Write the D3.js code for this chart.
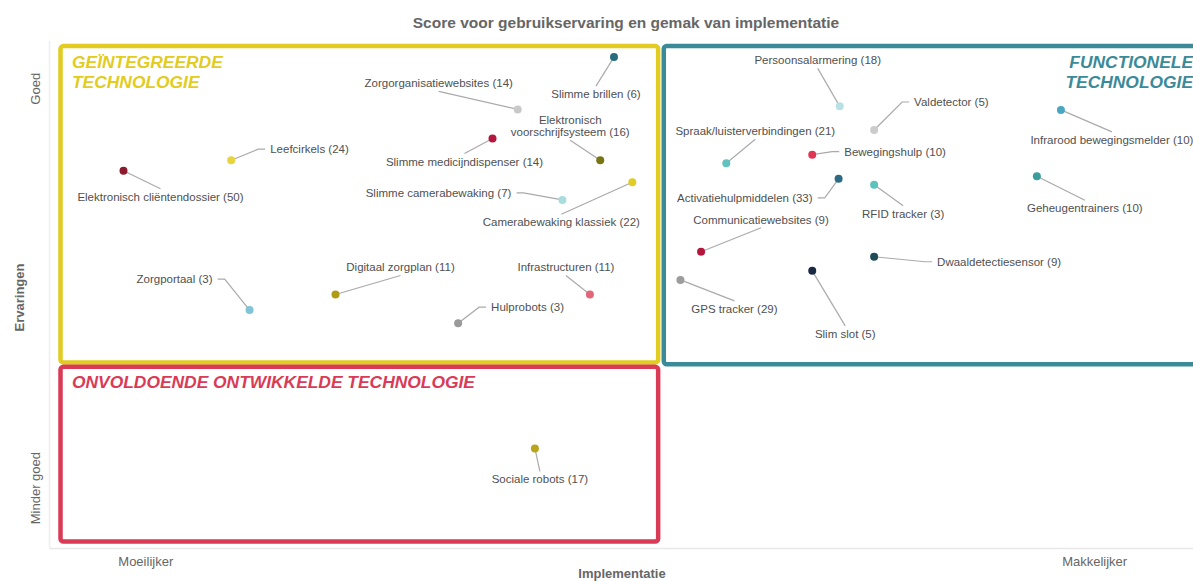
<!DOCTYPE html>
<html>
<head>
<meta charset="utf-8">
<script src="https://cdn.jsdelivr.net/npm/d3@7"></script>
<style>
  body { margin: 0; background: #fff; }
  svg { font-family: "Liberation Sans", Arial, sans-serif; }
</style>
</head>
<body>
<div id="chart"></div>
<script>
var width = 1193,
    height = 581;

// data
var names = ["Slimme brillen", "Zorgorganisatiewebsites", "Elektronisch voorschrijfsysteem",
  "Slimme medicijndispenser", "Leefcirkels", "Elektronisch cliëntendossier",
  "Slimme camerabewaking", "Camerabewaking klassiek", "Digitaal zorgplan",
  "Infrastructuren", "Hulprobots", "Zorgportaal", "Sociale robots",
  "Persoonsalarmering", "Valdetector", "Spraak/luisterverbindingen", "Bewegingshulp",
  "Activatiehulpmiddelen", "RFID tracker", "Communicatiewebsites", "GPS tracker",
  "Slim slot", "Dwaaldetectiesensor", "Infrarood bewegingsmelder", "Geheugentrainers"];
var counts = [6, 14, 16, 14, 24, 50, 7, 22, 11, 11, 3, 3, 17,
  18, 5, 21, 10, 33, 3, 9, 29, 5, 9, 10, 10];
var implementatie = [49.3, 40.9, 48.1, 38.7, 15.9, 6.5, 44.8, 50.9, 25.0, 47.2, 35.7, 17.5, 42.4,
  69.0, 72.0, 59.1, 66.6, 68.9, 72.0, 56.9, 55.1, 66.6, 72.0, 88.3, 86.2];
var ervaring = [97.6, 87.2, 77.1, 81.4, 77.1, 75.0, 69.2, 72.7, 50.4, 50.4, 44.7, 47.3, 19.8,
  87.8, 83.1, 76.5, 78.2, 73.4, 72.2, 58.9, 53.3, 55.1, 57.9, 87.1, 73.9];

var xTickValues = [8.4, 91.2];
var xTickLabels = ["Moeilijker", "Makkelijker"];
var yTickValues = [91.4, 12.0];
var yTickLabels = ["Goed", "Minder goed"];

var xSplit = 53.4, ySplit = 36.5;
var quadrantNames = [["GEÏNTEGREERDE", "TECHNOLOGIE"], ["FUNCTIONELE", "TECHNOLOGIE"],
  ["ONVOLDOENDE ONTWIKKELDE TECHNOLOGIE"]];

// styling / layout
var dotColors = ["#286c80", "#c9c9c9", "#7a7514", "#b5173c", "#e8d43e", "#8c1b2e",
  "#a9dcdc", "#e2cc22", "#b09b16", "#e2667a", "#9a9a9a", "#80c4d6", "#b9a41a",
  "#b9e1e4", "#cccccc", "#62c1c1", "#e03654", "#2b6c84", "#5cc3bc", "#b3173b",
  "#9c9c9c", "#1b2a44", "#1f4a57", "#4ba6c1", "#3a9e9e"];
var quadrantColors = ["#e2cc21", "#3b8a9a", "#d93b57"];
// label offset from its dot: dx, dy, anchor, lines
var labelLayout = [[-18, 37, "middle"], [-79, -26, "middle"], [-30, -34, "middle", 2],
  [-28, 23, "middle"], [39, -11, "start"], [37, 26, "middle"], [-51, -7, "end"],
  [-71, 40, "middle"], [65, -27, "middle"], [-24, -27, "middle"], [33, -16, "start"],
  [-37, -31, "end"], [5, 31, "middle"], [-22, -46, "middle"], [40, -28, "start"],
  [29, -32, "middle"], [32, -3, "start"], [-26, 19, "end"], [29, 29, "middle"],
  [60, -32, "middle"], [54, 29, "middle"], [33, 63, "middle"], [63, 5, "start"],
  [51, 30, "middle"], [48, 32, "middle"]];

var svg = d3.select("#chart")
  .append("svg")
  .attr("width", width)
  .attr("height", height);

var x = d3.scaleLinear().domain([0, 100]).range([49, 1195]);
var y = d3.scaleLinear().domain([0, 100]).range([548, 45]);

// title
svg.append("text")
  .attr("x", 626)
  .attr("y", 28)
  .attr("text-anchor", "middle")
  .style("font-size", "15.5px")
  .style("font-weight", "bold")
  .style("fill", "#666")
  .text("Score voor gebruikservaring en gemak van implementatie");

// axes
var xAxis = svg.append("g")
  .attr("transform", "translate(0," + y(0) + ")")
  .call(d3.axisBottom(x).tickValues(xTickValues)
    .tickFormat(function(d, i) { return xTickLabels[i]; })
    .tickSize(0).tickPadding(9));
xAxis.select(".domain").attr("stroke", "#e8e8e8").attr("stroke-width", 1.5);
xAxis.selectAll("text").style("font-size", "13px").style("fill", "#666")
  .style("font-family", "Liberation Sans, Arial, sans-serif");

var yAxis = svg.append("g")
  .attr("transform", "translate(" + x(0) + ",0)")
  .call(d3.axisLeft(y).tickValues(yTickValues)
    .tickFormat(function(d, i) { return yTickLabels[i]; })
    .tickSize(0));
yAxis.select(".domain").attr("stroke", "#eeeeee").attr("stroke-width", 1.5)
  .attr("d", "M0.5," + (y(100) - 4) + "V" + y(0));
yAxis.selectAll("text")
  .attr("x", 0).attr("y", 0).attr("dy", 0)
  .attr("text-anchor", "middle")
  .attr("transform", "translate(-9,0) rotate(-90)")
  .style("font-size", "13px").style("fill", "#666")
  .style("font-family", "Liberation Sans, Arial, sans-serif");

svg.append("text")
  .attr("transform", "translate(24," + 297.5 + ") rotate(-90)")
  .attr("text-anchor", "middle")
  .style("font-size", "13px").style("font-weight", "bold").style("fill", "#666")
  .text("Ervaringen");

svg.append("text")
  .attr("x", (x(0) + x(100)) / 2)
  .attr("y", 578)
  .attr("text-anchor", "middle")
  .style("font-size", "13px").style("font-weight", "bold").style("fill", "#666")
  .text("Implementatie");

// quadrant boxes
var boxes = [
  {x0: x(0) + 11.5, x1: x(xSplit) - 2.8, y0: y(100) + 1, y1: y(ySplit) - 2},
  {x0: x(xSplit) + 2.8, x1: x(100) + 12, y0: y(100) + 1, y1: y(ySplit) - 0.2},
  {x0: x(0) + 11.5, x1: x(xSplit) - 2.8, y0: y(ySplit) + 2.3, y1: y(0) - 6.5}
];

svg.selectAll(".quadrant")
  .data(boxes)
  .enter().append("rect")
  .attr("class", "quadrant")
  .attr("x", function(d) { return d.x0; })
  .attr("y", function(d) { return d.y0; })
  .attr("width", function(d) { return d.x1 - d.x0; })
  .attr("height", function(d) { return d.y1 - d.y0; })
  .attr("rx", 3)
  .attr("fill", "none")
  .attr("stroke", function(d, i) { return quadrantColors[i]; })
  .attr("stroke-width", 4.5);

quadrantNames.forEach(function(lines, q) {
  var b = boxes[q];
  var right = q == 1;
  var t = svg.append("text")
    .attr("text-anchor", right ? "end" : "start")
    .style("font-size", "17.4px")
    .style("font-weight", "bold")
    .style("font-style", "italic")
    .style("fill", quadrantColors[q]);
  lines.forEach(function(l, k) {
    t.append("tspan")
      .attr("x", right ? x(100) - 2 : b.x0 + 11.5)
      .attr("y", b.y0 + 21.5 + k * 20)
      .text(l);
  });
});

// dots + labels
var points = names.map(function(n, i) {
  return {name: n, count: counts[i], x: implementatie[i], y: ervaring[i],
    color: dotColors[i], lay: labelLayout[i]};
});

var connectors = svg.append("g");
var labels = svg.append("g");
var dots = svg.append("g");

points.forEach(function(d) {
  var px = x(d.x), py = y(d.y);
  var lx = px + d.lay[0], ly = py + d.lay[1];
  var label = d.name + " (" + d.count + ")";
  var lines = [label];
  if (d.lay[3] == 2) {
    var sp = label.indexOf(" ");
    lines = [label.slice(0, sp), label.slice(sp + 1)];
  }
  var n = lines.length;
  var t = labels.append("text")
    .attr("text-anchor", d.lay[2])
    .style("font-size", "11.5px")
    .style("fill", "#505050");
  lines.forEach(function(l, k) {
    t.append("tspan")
      .attr("x", lx)
      .attr("y", ly - (n - 1) * 6 + k * 12 + 4)
      .text(l);
  });

  var bb = t.node().getBBox();
  var left = bb.x, right = bb.x + bb.width;
  var top = ly - n * 6, bottom = ly + n * 6;
  var gapX = px < left ? left - px : (px > right ? px - right : 0);
  var p;
  if (gapX > 15) {
    var end = px < left ? left - 5 : right + 5;
    var elbow = px < left ? left - 12 : right + 12;
    p = "M" + px + "," + py + "L" + elbow + "," + ly + "L" + end + "," + ly;
  } else {
    var endY = py < ly ? top - 2 : bottom + 2;
    p = "M" + px + "," + py + "L" + lx + "," + endY;
  }
  connectors.append("path")
    .attr("d", p)
    .attr("fill", "none")
    .attr("stroke", "#aaaaaa")
    .attr("stroke-width", 1.2);

  dots.append("circle")
    .attr("cx", px)
    .attr("cy", py)
    .attr("r", 4)
    .attr("fill", d.color);
});
</script>
</body>
</html>
